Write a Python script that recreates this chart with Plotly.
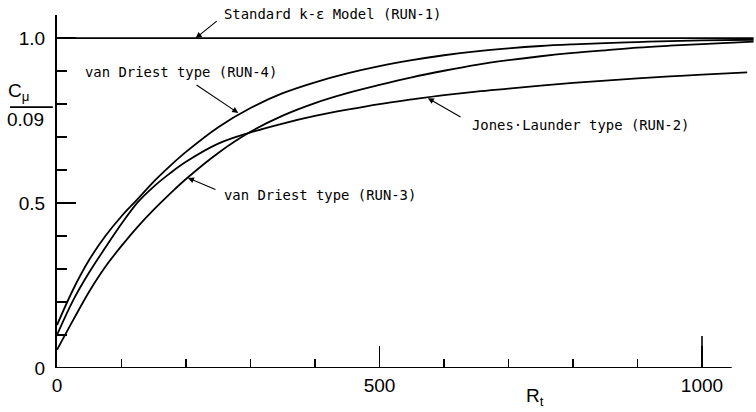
import plotly.graph_objects as go

# ---- data ----
rt_run1 = [0, 1080]
cmu_run1 = [1.0, 1.0]

rt_grid = [0, 25, 50, 75, 100, 125, 150, 175, 200, 250, 300, 350, 400, 450, 500, 550, 600, 650, 700, 750,
           800, 850, 900, 950, 1000]

rt_run4 = rt_grid + [1080]
cmu_run4 = [0.13, 0.238, 0.328, 0.400, 0.460, 0.512, 0.565, 0.612, 0.655, 0.730, 0.788, 0.833, 0.866, 0.893,
            0.915, 0.933, 0.948, 0.960, 0.969, 0.976, 0.981, 0.985, 0.988, 0.991, 0.993, 0.995]

rt_run3 = rt_grid + [1080]
cmu_run3 = [0.055, 0.145, 0.232, 0.307, 0.370, 0.428, 0.480, 0.528, 0.573, 0.652, 0.716, 0.765, 0.803, 0.833,
            0.858, 0.881, 0.901, 0.919, 0.933, 0.945, 0.955, 0.963, 0.971, 0.977, 0.982, 0.989]

rt_run2 = rt_grid + [1070]
cmu_run2 = [0.10, 0.205, 0.29, 0.365, 0.437, 0.502, 0.550, 0.590, 0.625, 0.680, 0.714, 0.741, 0.764, 0.783,
            0.800, 0.814, 0.827, 0.838, 0.847, 0.856, 0.864, 0.871, 0.878, 0.884, 0.889, 0.896]

x_tickvals = [0, 500, 1000]
x_ticktext = ["0", "500", "1000"]
x_minor = [100, 200, 300, 400, 600, 700, 800, 900]
y_tickvals = [0, 0.5, 1.0]
y_ticktext = ["0", "0.5", "1.0"]
y_minor = [0.1, 0.2, 0.3, 0.4, 0.6, 0.7, 0.8, 0.9]

# label text, arrow tip, arrow tail, text anchor (left-middle)
labels = [
    ("Standard k-ε Model (RUN-1)", (215, 1.0), (250, 1.055), (256, 1.073)),
    ("van Driest type (RUN-4)", (281, 0.773), (214, 0.861), (40, 0.897)),
    ("van Driest type (RUN-3)", (203, 0.576), (248, 0.539), (256, 0.524)),
    ("Jones·Launder type (RUN-2)", (575, 0.818), (628, 0.758), (641, 0.737)),
]

XMAX = 1080.6
YMAX = 1.07

LINE = dict(color="black", width=1.8)
fig = go.Figure()
for xs, ys in [(rt_run1, cmu_run1), (rt_run4, cmu_run4), (rt_run3, cmu_run3), (rt_run2, cmu_run2)]:
    fig.add_trace(go.Scatter(x=xs, y=ys, mode="lines", line=dict(LINE, shape="spline", smoothing=1.0),
                             showlegend=False, hoverinfo="skip"))

MONO = dict(family="DejaVu Sans Mono", size=13.9, color="black")
annotations = []
for text, tip, tail, pos in labels:
    annotations.append(dict(x=tip[0], y=tip[1], ax=tail[0], ay=tail[1], axref="x", ayref="y",
                            xref="x", yref="y", text="", showarrow=True, arrowhead=2,
                            arrowsize=1.1, arrowwidth=1.1, arrowcolor="black",
                            standoff=0, startstandoff=0))
    annotations.append(dict(x=pos[0] / XMAX, y=pos[1] / YMAX, xref="paper", yref="paper", text=text,
                            showarrow=False, xanchor="left", yanchor="middle", font=MONO))

SANS = dict(family="Liberation Sans", size=19, color="black")
# axis titles
annotations.append(dict(x=0.686, y=-0.082, xref="paper", yref="paper", text="R<sub>t</sub>",
                        showarrow=False, xanchor="center", yanchor="middle", font=SANS))
annotations.append(dict(x=-0.055, y=0.783, xref="paper", yref="paper", text="C<sub>μ</sub>",
                        showarrow=False, xanchor="center", yanchor="middle", font=SANS))
annotations.append(dict(x=-0.0455, y=0.705, xref="paper", yref="paper", text="0.09",
                        showarrow=False, xanchor="center", yanchor="middle", font=SANS))

shapes = [
    # x axis line (stops short of the curve ends)
    dict(type="line", xref="x", yref="y", x0=0, x1=1046, y0=0, y1=0, line=dict(color="black", width=2)),
    # longer tick at 1000
    dict(type="line", xref="x", yref="y", x0=1000, x1=1000, y0=0, y1=0.097, line=dict(color="black", width=1.6)),
    # fraction bar of the y label
    dict(type="line", xref="paper", yref="paper", x0=-0.0675, x1=-0.006, y0=0.739, y1=0.739,
         line=dict(color="black", width=1.6)),
]

fig.update_layout(
    width=756, height=412,
    margin=dict(l=57, r=2, t=15, b=44, autoexpand=False),
    paper_bgcolor="white", plot_bgcolor="white",
    annotations=annotations, shapes=shapes,
    xaxis=dict(range=[0, XMAX], automargin=False, showgrid=False, zeroline=False, showline=False,
               tickvals=x_tickvals, ticktext=x_ticktext, ticks="inside", ticklen=22, tickwidth=1.6,
               tickcolor="black", tickfont=SANS, ticklabelstandoff=4,
               minor=dict(tickvals=x_minor, ticks="inside", ticklen=9, tickwidth=1.4, tickcolor="black")),
    yaxis=dict(range=[0, YMAX], automargin=False, showgrid=False, zeroline=False, showline=True,
               linecolor="black", linewidth=2,
               tickvals=y_tickvals, ticktext=y_ticktext, ticks="inside", ticklen=19, tickwidth=1.6,
               tickcolor="black", tickfont=SANS, ticklabelstandoff=6,
               minor=dict(tickvals=y_minor, ticks="inside", ticklen=10, tickwidth=1.4, tickcolor="black")),
)

fig.write_html("out.html", config={"displayModeBar": False, "staticPlot": True},
               post_script="document.body.style.margin='0px';document.body.style.overflow='hidden';")
